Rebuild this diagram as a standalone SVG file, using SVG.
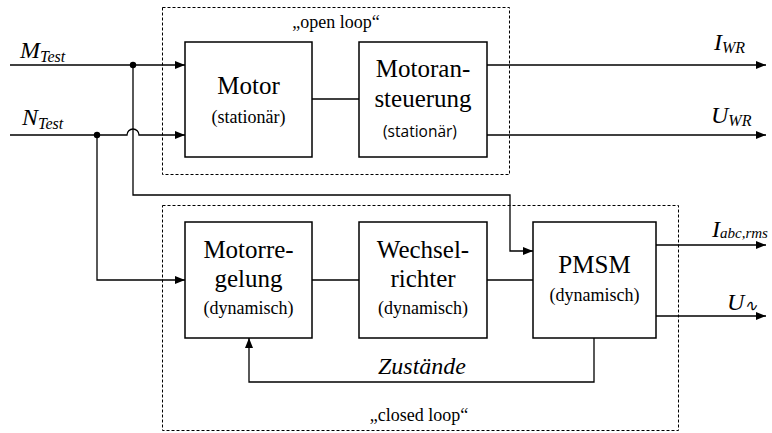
<svg xmlns="http://www.w3.org/2000/svg" width="772" height="433" viewBox="0 0 772 433">
<style>
.box{fill:#fff;stroke:#000;stroke-width:1.5}
.frame{fill:none;stroke:#000;stroke-width:1;stroke-dasharray:3,2}
.ln{fill:none;stroke:#000;stroke-width:1.3}
.var{font-style:italic;font-size:24px}
.sub{font-size:16px}
</style>
<defs>
<marker id="arr" viewBox="0 0 10 10" refX="10" refY="5" markerWidth="10" markerHeight="10" markerUnits="userSpaceOnUse" orient="auto">
<path d="M0,1 L10,5 L0,9 Z" fill="#000"/>
</marker>
</defs>
<rect fill="#fff" x="0" y="0" width="772" height="433"/>
<g id="frames" font-family="Liberation Serif, serif" font-size="18" text-anchor="middle">
<rect class="frame" x="162.5" y="7.5" width="347" height="167"/>
<text x="336" y="28">„open loop“</text>
<rect class="frame" x="162.5" y="205.5" width="516" height="225"/>
<text x="419" y="421">„closed loop“</text>
</g>
<g id="connectors">
<path class="ln" d="M10,65 H185" marker-end="url(#arr)"/>
<circle cx="133" cy="65" r="3.2" fill="#000"/>
<path class="ln" d="M133,65 V195 H510 V251 H533" marker-end="url(#arr)"/>
<path class="ln" d="M10,135 H127 A6,6 0 0 1 139,135 H185" marker-end="url(#arr)"/>
<circle cx="97" cy="135" r="3.2" fill="#000"/>
<path class="ln" d="M97,135 V280 H185" marker-end="url(#arr)"/>
<path class="ln" d="M312,99 H359"/>
<path class="ln" d="M487,65 H766" marker-end="url(#arr)"/>
<path class="ln" d="M487,135 H766" marker-end="url(#arr)"/>
<path class="ln" d="M312,280 H359"/>
<path class="ln" d="M487,280 H533"/>
<path class="ln" d="M656,245 H766" marker-end="url(#arr)"/>
<path class="ln" d="M656,316 H766" marker-end="url(#arr)"/>
<path class="ln" d="M594,338 V382 H249 V338" marker-end="url(#arr)"/>
</g>
<g id="labels" font-family="Liberation Serif, serif">
<text class="var" x="20" y="58">M<tspan class="sub" dy="4">Test</tspan></text>
<text class="var" x="22" y="125">N<tspan class="sub" dy="4">Test</tspan></text>
<text class="var" x="714" y="50">I<tspan class="sub" dy="3">WR</tspan></text>
<text class="var" x="711" y="123">U<tspan class="sub" dy="3">WR</tspan></text>
<text class="var" x="712" y="237">I<tspan class="sub" style="font-size:15px" dy="1">abc,rms</tspan></text>
<text class="var" x="727" y="310">U<tspan class="sub" dy="1">∿</tspan></text>
<text class="var" x="422" y="374" text-anchor="middle">Zustände</text>
</g>
<g id="motor" font-family="Liberation Serif, serif" text-anchor="middle">
<text x="248.5" y="94" font-size="25">Motor</text>
<text x="248.5" y="123" font-size="18">(stationär)</text>
<rect x="185" y="42" width="127" height="115" fill="none" stroke="#000" stroke-width="1.5"/>
</g>
<g id="motoransteuerung" text-anchor="middle">
<rect class="box" x="359" y="42" width="128" height="115"/>
<g font-family="Liberation Serif, serif">
<text x="423" y="77" font-size="25">Motoran-</text>
<text x="423" y="107" font-size="25">steuerung</text>
</g>
<text x="420" y="137" font-size="15.5" font-family="Open Sans, Liberation Sans, sans-serif">(stationär)</text>
</g>
<g id="motorregelung" text-anchor="middle">
<rect class="box" x="185" y="222" width="127" height="116"/>
<text font-family="Liberation Serif, serif" font-size="25"><tspan x="248.5" y="258">Motorre-</tspan><tspan x="248.5" y="287">gelung</tspan><tspan x="248.5" y="314" font-size="18">(dynamisch)</tspan></text>
</g>
<g id="wechselrichter" font-family="Liberation Serif, serif" text-anchor="middle">
<path d="M359,222 H487 V338 H359 Z" fill="#fff" stroke="#000" stroke-width="1.5"/>
<text x="423" y="258" font-size="25">Wechsel-</text>
<text x="423" y="287" font-size="25">richter</text>
<text x="423" y="314" font-size="18">(dynamisch)</text>
</g>
<g id="pmsm" font-family="Times New Roman, Liberation Serif, serif" text-anchor="middle">
<rect class="box" x="533" y="222" width="123" height="116"/>
<text x="594.5" y="273" font-size="25">PMSM</text>
<text x="594.5" y="301" font-size="18">(dynamisch)</text>
</g>
</svg>
